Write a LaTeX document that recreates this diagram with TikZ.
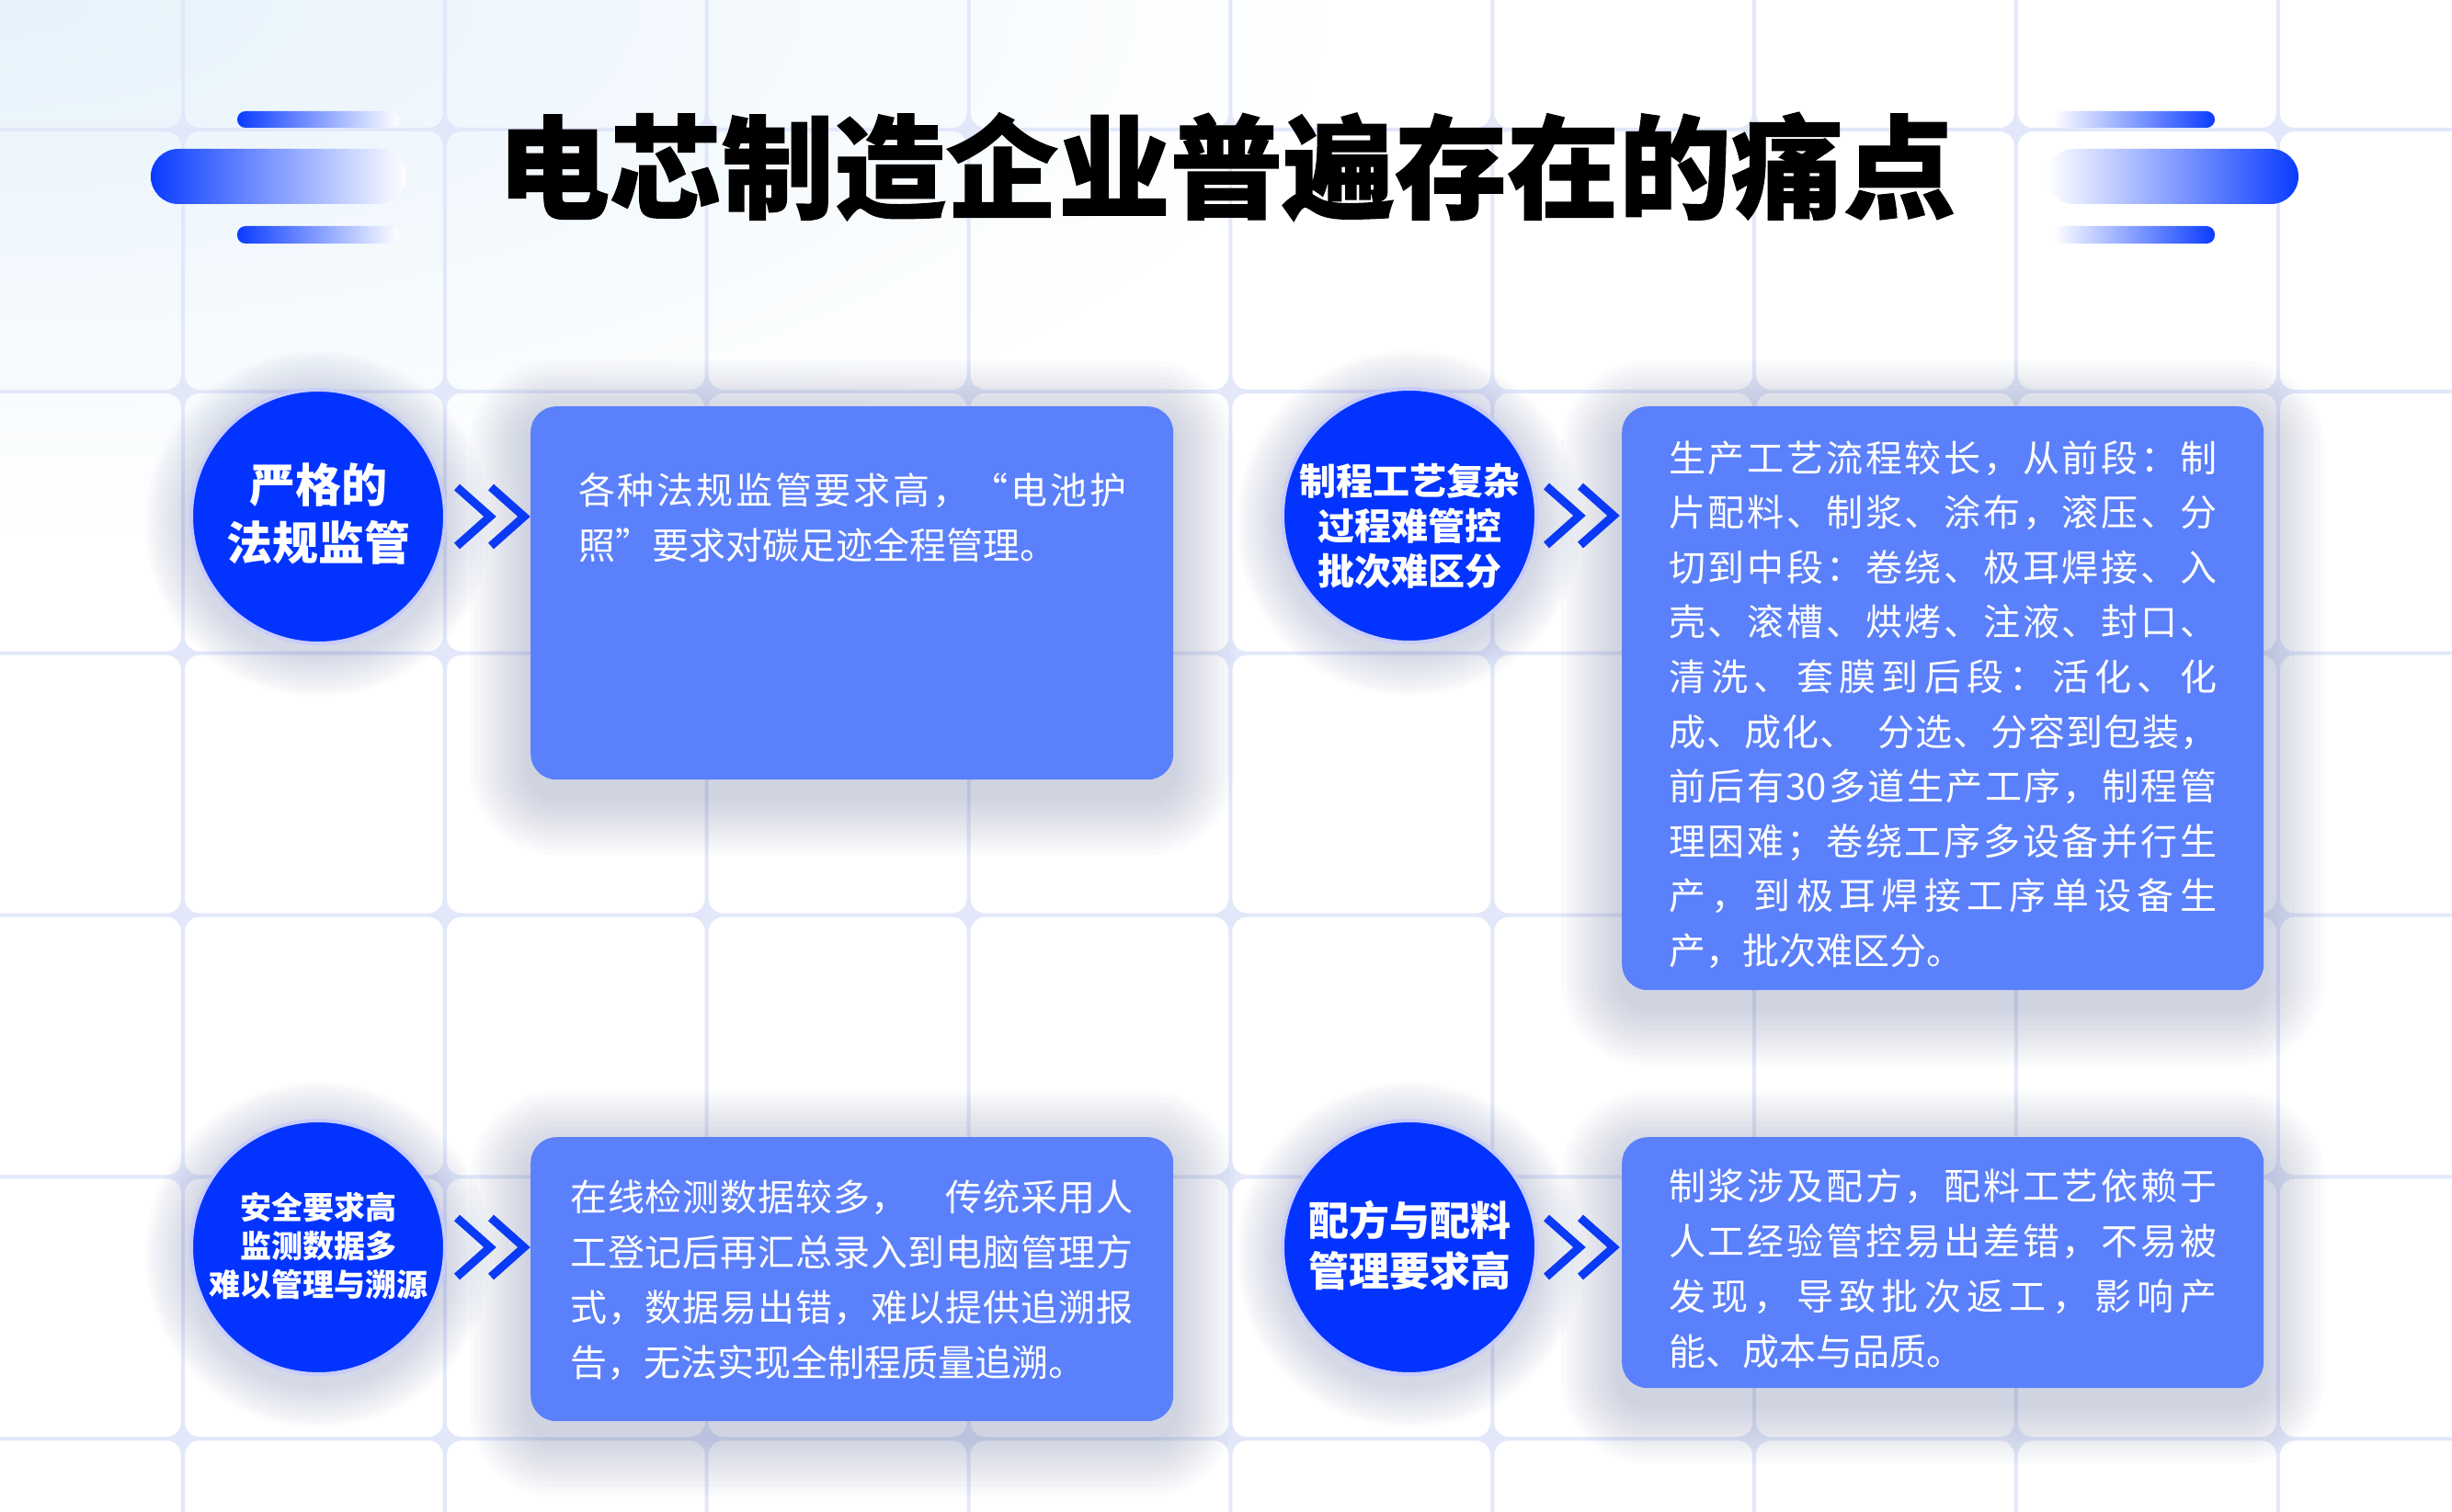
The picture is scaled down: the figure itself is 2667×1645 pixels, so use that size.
\documentclass[tikz,border=0pt]{standalone}
\usepackage{fontspec}
\setmainfont{Noto Sans CJK SC}
\newfontfamily\titlefont{Noto Sans CJK SC}[BoldFeatures={FakeBold=1}]
\usetikzlibrary{calc}
\pgfdeclarelayer{back}
\pgfdeclarelayer{shade}
\pgfsetlayers{back,shade,main}
\definecolor{circblue}{RGB}{3,52,255}
\definecolor{ringcol}{RGB}{200,204,250}
\definecolor{boxblue}{RGB}{91,128,251}
\definecolor{chevblue}{RGB}{10,58,245}
\definecolor{barblue}{RGB}{10,60,255}
\definecolor{gridcol}{RGB}{226,232,250}
\definecolor{bgtint}{RGB}{230,242,251}
\definecolor{shadowcol}{RGB}{105,118,165}
\ExplSyntaxOn
\NewDocumentCommand \SpreadTo { m m }
  { \hbox_to_wd:nn { #1 } { \tl_map_inline:nn { #2 } { ##1 \hfil } \unskip } }
\ExplSyntaxOff
\tikzset{
  painc/.style={circle, fill=circblue, draw=ringcol, line width=4pt, minimum size=276pt, inner sep=0pt},
  painbox/.style={rectangle, rounded corners=28pt, fill=boxblue, inner sep=0pt, anchor=north west},
  ctext/.style={text=white, align=center, inner sep=0pt},
  bodytxt/.style={anchor=base west, inner sep=0pt, text=white, font=\fontsize{40}{60}\selectfont},
  chevline/.style={draw=chevblue, line width=9pt, line join=miter, line cap=butt},
  boxshade/.style={fill=shadowcol, fill opacity=0.026},
  circshade/.style={fill=shadowcol, fill opacity=0.024},
  dblchev/.pic={
    \draw[chevline] (0,-32) -- (36,0) -- (0,32);
    \draw[chevline] (37,-32) -- (73,0) -- (37,32);
  }
}
\begin{document}
\begin{tikzpicture}[x=1pt,y=-1pt]
\useasboundingbox (0,0) rectangle (2667,1645);
\begin{pgfonlayer}{back}
\begin{scope}
  \clip (0,0) rectangle (2667,1645);
  \fill[white] (0,0) rectangle (2667,1645);
  \shade[inner color=bgtint, outer color=white] (0,0) ellipse (1500pt and 600pt);
  \fill[gridcol, even odd rule, rounded corners=16pt] (-150,-200) rectangle (2850,1900)
    \foreach \i in {-1,...,8} { \foreach \j in {-1,...,5} {
      ({199+\i*284.85+2},{141+\j*284.85+2}) rectangle ({199+(\i+1)*284.85-2},{141+(\j+1)*284.85-2})
    } };
\end{scope}
\end{pgfonlayer}

% decorative bars
\shade[left color=barblue, right color=white, rounded corners=9pt] (258,121) rectangle (434,139);
\shade[left color=barblue, right color=white, rounded corners=30pt] (164,162) rectangle (442,222);
\shade[left color=barblue, right color=white, rounded corners=9pt] (258,246) rectangle (434,265);
\shade[left color=white, right color=barblue, rounded corners=9pt] (2233,121) rectangle (2409,139);
\shade[left color=white, right color=barblue, rounded corners=30pt] (2226,162) rectangle (2500,222);
\shade[left color=white, right color=barblue, rounded corners=9pt] (2233,246) rectangle (2409,265);

% title
\node[anchor=base, inner sep=0pt, font=\titlefont\bfseries\fontsize{122}{122}\selectfont] (title) at (1334,228) {电芯制造企业普遍存在的痛点};

% boxes
\node[painbox, minimum width=699pt, minimum height=406pt] (b1) at (577,442) {};
\node[painbox, minimum width=698pt, minimum height=635pt] (b2) at (1764,442) {};
\node[painbox, minimum width=699pt, minimum height=309pt] (b3) at (577,1237) {};
\node[painbox, minimum width=698pt, minimum height=273pt] (b4) at (1764,1237) {};

% circles
\node[painc] (c1) at (346,562) {};
\node[painc] (c2) at (1533,561) {};
\node[painc] (c3) at (346,1357) {};
\node[painc] (c4) at (1533,1357) {};

% shadows
\begin{pgfonlayer}{shade}
\foreach \b in {b1,b2,b3,b4}{
  \foreach \k [evaluate=\k as \dd using 5.5*\k, evaluate=\k as \rr using 28+5.5*\k] in {1,...,12}{
    \fill[boxshade, rounded corners=\rr pt] ($(\b.north west)+(-\dd,-\dd+16)$) rectangle ($(\b.south east)+(\dd,\dd+16)$);
  }
}
\foreach \c in {c1,c2,c3,c4}{
  \foreach \k [evaluate=\k as \rc using 140+4*\k] in {1,...,12}{
    \fill[circshade] ($(\c.center)+(0,8)$) circle (\rc pt);
  }
}
\end{pgfonlayer}

% chevrons
\pic at ($(c1.east)+(11,0)$) {dblchev};
\pic at ($(c2.east)+(9,0)$) {dblchev};
\pic at ($(c3.east)+(11,0)$) {dblchev};
\pic at ($(c4.east)+(9,0)$) {dblchev};

% circle texts
\node[ctext, font=\bfseries\fontsize{50}{63}\selectfont] (c1t) at (346,559) {严格的\\法规监管};
\node[ctext, font=\bfseries\fontsize{40}{49}\selectfont] (c2t) at (1533,573) {制程工艺复杂\\过程难管控\\批次难区分};
\node[ctext, font=\bfseries\fontsize{34}{42}\selectfont] (c3t) at (346,1355) {安全要求高\\监测数据多\\难以管理与溯源};
\node[ctext, font=\bfseries\fontsize{44}{55}\selectfont] (c4t) at (1533,1355) {配方与配料\\管理要求高};

% box texts
\node[bodytxt] (t1) at (629,548) {\vtop{\baselineskip=60pt
  \SpreadTo{596pt}{各种法规监管要求高，“电池护}
  \hbox{照”要求对碳足迹全程管理。}}};
\node[bodytxt] (t2) at (1815,513) {\vtop{\baselineskip=59.6pt
  \SpreadTo{596pt}{生产工艺流程较长，从前段：制}
  \SpreadTo{596pt}{片配料、制浆、涂布，滚压、分}
  \SpreadTo{596pt}{切到中段：卷绕、极耳焊接、入}
  \SpreadTo{596pt}{壳、滚槽、烘烤、注液、封口、}
  \SpreadTo{596pt}{清洗、套膜到后段：活化、化}
  \SpreadTo{596pt}{成、成化、{\kern20pt}分选、分容到包装，}
  \SpreadTo{596pt}{前后有{30}多道生产工序，制程管}
  \SpreadTo{596pt}{理困难；卷绕工序多设备并行生}
  \SpreadTo{596pt}{产，到极耳焊接工序单设备生}
  \hbox{产，批次难区分。}}};
\node[bodytxt] (t3) at (620,1317) {\vtop{\baselineskip=60pt
  \SpreadTo{612pt}{在线检测数据较多，{\kern40pt}传统采用人}
  \SpreadTo{612pt}{工登记后再汇总录入到电脑管理方}
  \SpreadTo{612pt}{式，数据易出错，难以提供追溯报}
  \hbox{告，无法实现全制程质量追溯。}}};
\node[bodytxt] (t4) at (1815,1305) {\vtop{\baselineskip=60pt
  \SpreadTo{596pt}{制浆涉及配方，配料工艺依赖于}
  \SpreadTo{596pt}{人工经验管控易出差错，不易被}
  \SpreadTo{596pt}{发现，导致批次返工，影响产}
  \hbox{能、成本与品质。}}};
\end{tikzpicture}
\end{document}
